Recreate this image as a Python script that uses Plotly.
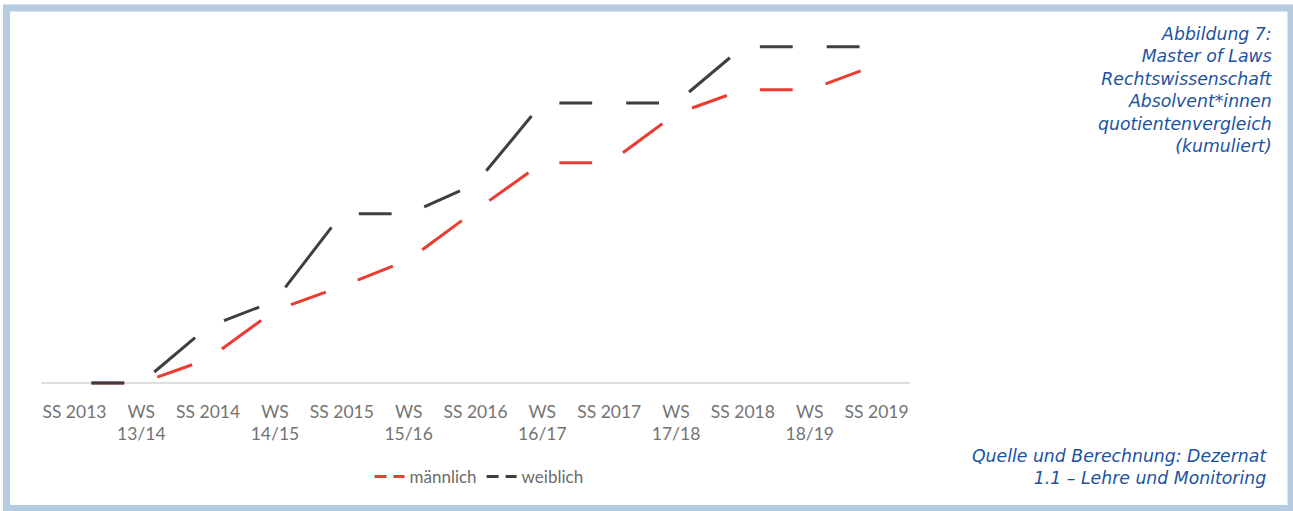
import math
import plotly.graph_objects as go

# Semester categories (x axis) and cumulative quotients per gender
categories = ["SS 2013", "WS<br>13/14", "SS 2014", "WS<br>14/15", "SS 2015",
              "WS<br>15/16", "SS 2016", "WS<br>16/17", "SS 2017", "WS<br>17/18",
              "SS 2018", "WS<br>18/19", "SS 2019"]
maennlich = [0, 0, 7.1, 21.6, 28.7, 36.6, 51.3, 65.5, 65.5, 80.1, 87.2, 87.2, 94.6]
weiblich = [0, 0, 16.7, 24.4, 50.3, 50.3, 59.2, 83.3, 83.3, 83.3, 100, 100, 100]

series = [("männlich", maennlich, "#ec3b30"), ("weiblich", weiblich, "#3f3f3f")]

# Figure geometry
W, H = 1293, 511
ML, MR, MT, MB = 41, 383, 30, 118
PW, PH = W - ML - MR, H - MT - MB
Y_RANGE = [-3, 105]
KX = PW / len(categories)              # px per category
KY = PH / (Y_RANGE[1] - Y_RANGE[0])    # px per value unit
GAP = 17                               # blank space around every data point


def seg_dash(v0, v1):
    """One centred dash per segment, leaving a gap around each point."""
    s = math.hypot(KX, KY * (v1 - v0))
    return f"0px,{GAP}px,{max(s - 2 * GAP, 1):.1f}px,{s + GAP:.1f}px"


fig = go.Figure()
for name, vals, color in series:
    for i in range(len(categories) - 1):
        fig.add_trace(go.Scatter(
            x=categories[i:i + 2], y=vals[i:i + 2], mode="lines",
            line=dict(color=color, width=3, dash=seg_dash(vals[i], vals[i + 1])),
            showlegend=False, hoverinfo="skip", cliponaxis=False,
        ))
    # legend entry
    fig.add_trace(go.Scatter(
        x=[None], y=[None], mode="lines", name=name,
        line=dict(color=color, width=3, dash="12px,7px"),
    ))


def px_x(p):
    return (p - ML) / PW


def px_y(p):
    return (H - MB - p) / PH


blue = "#1d52a0"
side_font = dict(family="DejaVu Sans", size=17.3, color=blue, style="italic")
fig.add_annotation(
    text="Abbildung 7:<br>Master of Laws<br>Rechtswissenschaft<br>Absolvent*innen<br>"
         "quotientenvergleich<br>(kumuliert)",
    xref="paper", yref="paper", x=px_x(1275), y=px_y(22.5),
    xanchor="right", yanchor="top", align="right", showarrow=False,
    font=side_font,
)
fig.add_annotation(
    text="Quelle und Berechnung: Dezernat<br>1.1 – Lehre und Monitoring",
    xref="paper", yref="paper", x=px_x(1269), y=px_y(444),
    xanchor="right", yanchor="top", align="right", showarrow=False,
    font=side_font,
)

# light blue frame around the figure
fig.add_shape(
    type="rect", xref="paper", yref="paper",
    x0=px_x(6.5), x1=px_x(1291), y0=px_y(508.5), y1=px_y(8),
    line=dict(color="#b5cbe2", width=7), fillcolor="rgba(0,0,0,0)", layer="above",
)

fig.update_layout(
    width=W, height=H,
    margin=dict(l=ML, r=MR, t=MT, b=MB),
    paper_bgcolor="white", plot_bgcolor="white",
    showlegend=True,
    legend=dict(orientation="h", x=px_x(479), xanchor="center",
                y=px_y(477), yanchor="middle",
                font=dict(family="Lato", size=17, color="#6b6b6b"),
                itemwidth=30, tracegroupgap=0),
    xaxis=dict(type="category", range=[-0.5, len(categories) - 0.5],
               showgrid=False, zeroline=False, showline=False, ticks="",
               tickfont=dict(family="Lato", size=17.5, color="#737373"),
               ticklabelstandoff=6, fixedrange=True),
    yaxis=dict(range=Y_RANGE, showgrid=False, showticklabels=False,
               zeroline=True, zerolinecolor="#dedede", zerolinewidth=2,
               showline=False, ticks="", fixedrange=True),
)

fig.write_html("out.html")
